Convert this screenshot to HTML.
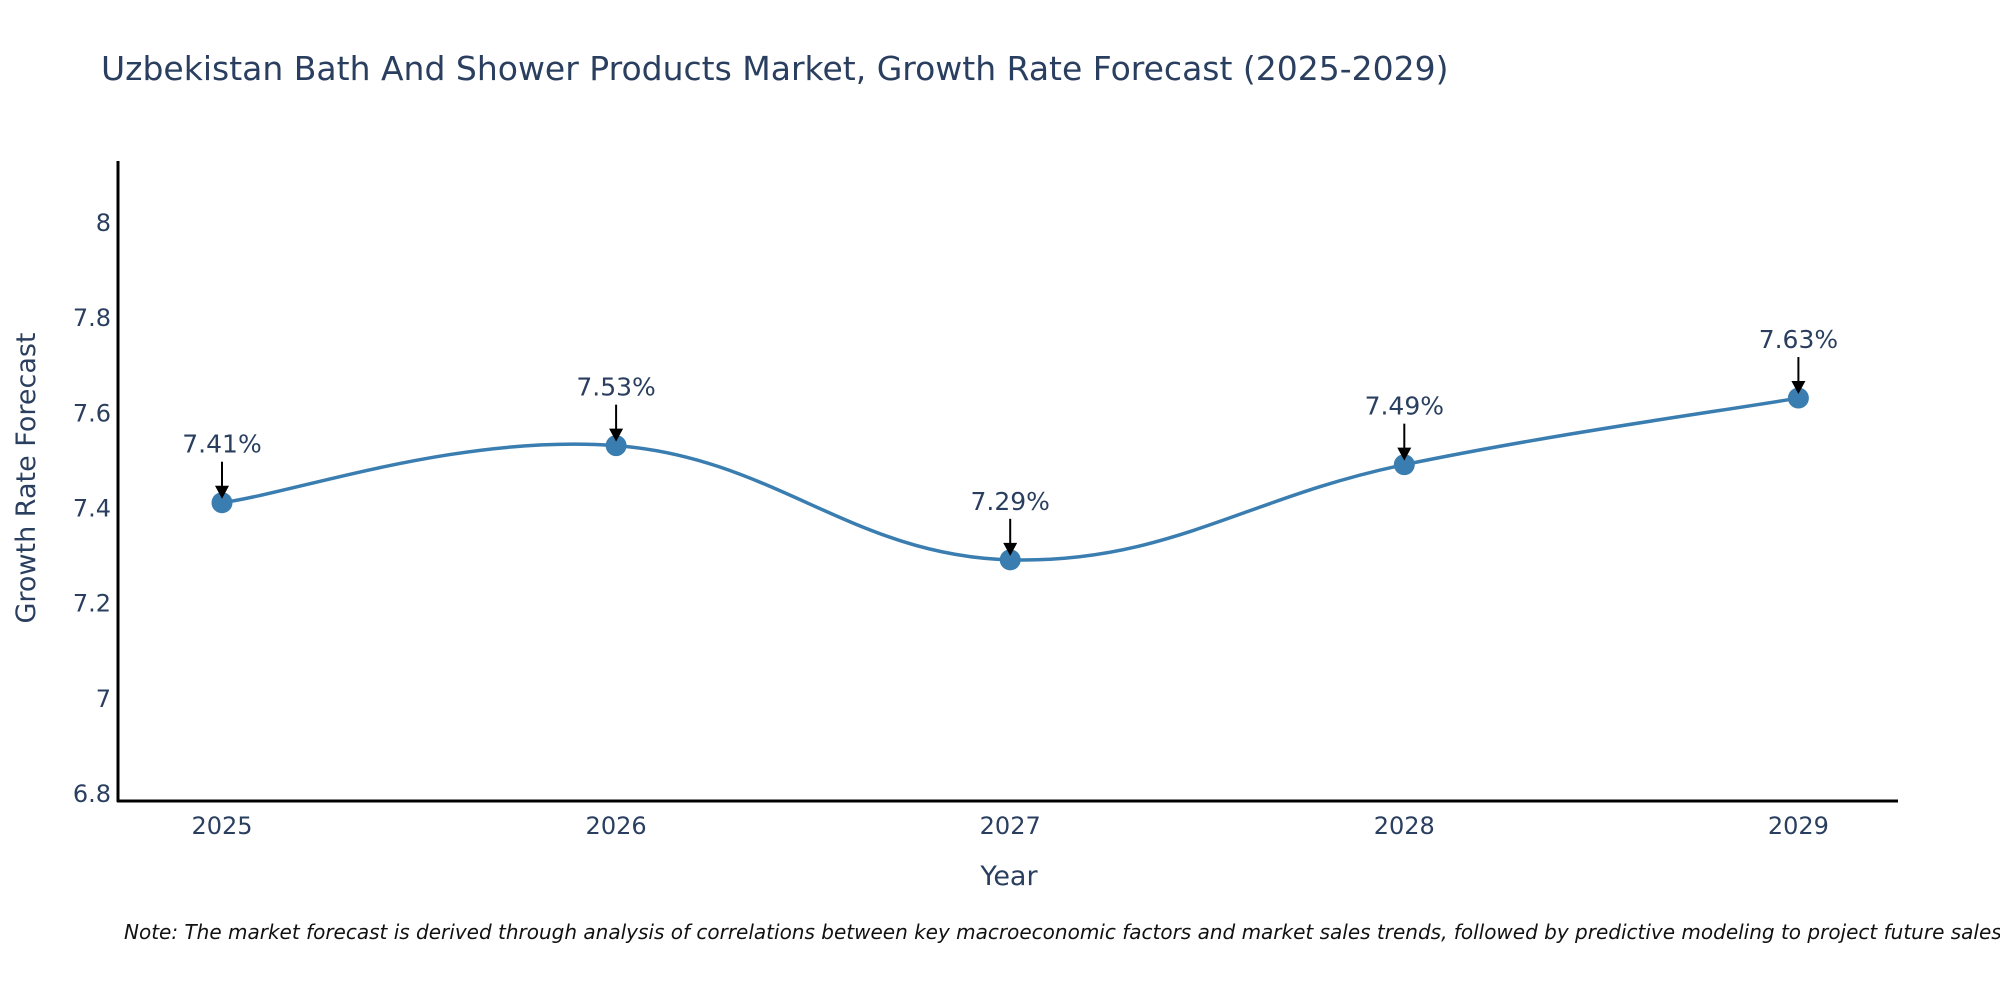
<!DOCTYPE html>
<html><head><meta charset="utf-8"><style>
body{margin:0;background:#fff;}
svg text{font-family:"DejaVu Sans","Liberation Sans",sans-serif;fill:#2a3f5f;}
</style></head><body>
<svg id="chart" width="2000" height="1000" xmlns="http://www.w3.org/2000/svg">
<text x="101" y="80" font-size="33">Uzbekistan Bath And Shower Products Market, Growth Rate Forecast (2025-2029)</text>
<g id="yticks"></g>
<g id="xticks"></g>
<path id="line" fill="none" stroke="#3a7db0" stroke-width="3.5"></path>
<g id="pts"></g>
<g id="ann"></g>
<line x1="118" y1="161" x2="118" y2="802" stroke="#000" stroke-width="3"/>
<line x1="117" y1="801" x2="1898" y2="801" stroke="#000" stroke-width="3"/>
<text x="1009" y="885" font-size="27" text-anchor="middle">Year</text>
<text x="0" y="0" font-size="27" text-anchor="middle" transform="translate(35,478) rotate(-90)">Growth Rate Forecast</text>
<text x="124" y="939" font-size="20" font-style="italic" style="fill:#111">Note: The market forecast is derived through analysis of correlations between key macroeconomic factors and market sales trends, followed by predictive modeling to project future sales.</text>
</svg>
<script>
const years=[2025,2026,2027,2028,2029];
const values=[7.41,7.53,7.29,7.49,7.63];
const labels=["7.41%","7.53%","7.29%","7.49%","7.63%"];
const yTicks=[6.8,7,7.2,7.4,7.6,7.8,8];
const yTickLabels=["6.8","7","7.2","7.4","7.6","7.8","8"];
const NS="http://www.w3.org/2000/svg";
function xs(v){return 222+(v-2025)*394.1;}
function ys(v){return 222+(8-v)*475.8;}
function mk(tag,attrs,parent){const e=document.createElementNS(NS,tag);for(const k in attrs)e.setAttribute(k,attrs[k]);parent.appendChild(e);return e;}
const yg=document.getElementById('yticks');
yTicks.forEach((t,i)=>{const e=mk('text',{x:111,y:ys(t)+9,'font-size':24,'text-anchor':'end'},yg);


e.textContent=yTickLabels[i];});
const xg=document.getElementById('xticks');
years.forEach(y=>{const e=mk('text',{x:xs(y),y:834,'font-size':24,'text-anchor':'middle'},xg);


e.textContent=String(y);});
const P=years.map((y,i)=>[xs(y),ys(values[i])]);
let d='M'+P[0][0]+','+P[0][1];const s=0.2;
for(let i=0;i<P.length-1;i++){const p0=P[Math.max(i-1,0)],p1=P[i],p2=P[i+1],p3=P[Math.min(i+2,P.length-1)];
const c1=[p1[0]+(p2[0]-p0[0])*s,p1[1]+(p2[1]-p0[1])*s];
const c2=[p2[0]-(p3[0]-p1[0])*s,p2[1]-(p3[1]-p1[1])*s];
d+=' C'+c1+' '+c2+' '+p2;}
document.getElementById('line').setAttribute('d',d);
const pg=document.getElementById('pts'),ag=document.getElementById('ann');
P.forEach((p,i)=>{const c=mk('circle',{cx:p[0],cy:p[1],r:10.5,fill:'#3a7db0'},pg);


const l=mk('line',{x1:p[0],y1:p[1]-41,x2:p[0],y2:p[1]-14,stroke:'#000','stroke-width':2},ag);


const h=mk('polygon',{points:(p[0]-7)+','+(p[1]-17)+' '+(p[0]+7)+','+(p[1]-17)+' '+p[0]+','+(p[1]-4),fill:'#000'},ag);


const t=mk('text',{x:p[0],y:p[1]-50,'font-size':25,'text-anchor':'middle'},ag);


t.textContent=labels[i];});
</script>
</body></html>
